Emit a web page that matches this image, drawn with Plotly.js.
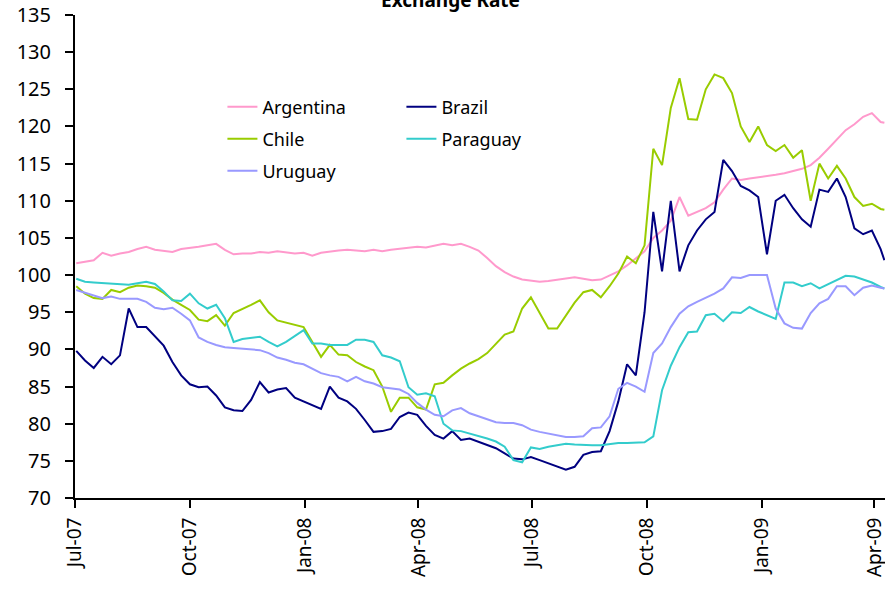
<!DOCTYPE html>
<html>
<head>
<meta charset="utf-8">
<script src="https://cdn.plot.ly/plotly-3.0.1.min.js"></script>
<style>
  html, body { margin: 0; padding: 0; background: #ffffff; }
  #chart { width: 885px; height: 591px; }
</style>
</head>
<body>
<div id="chart"></div>
<script>
// Weekly observations, Jul 2007 - Apr 2009 (index, start = 100 scale)
const dates = [
  "2007-07-02","2007-07-09","2007-07-16","2007-07-23","2007-07-30",
  "2007-08-06","2007-08-13","2007-08-20","2007-08-27",
  "2007-09-03","2007-09-10","2007-09-17","2007-09-24",
  "2007-10-01","2007-10-08","2007-10-15","2007-10-22","2007-10-29",
  "2007-11-05","2007-11-12","2007-11-19","2007-11-26",
  "2007-12-03","2007-12-10","2007-12-17","2007-12-24","2007-12-31",
  "2008-01-07","2008-01-14","2008-01-21","2008-01-28",
  "2008-02-04","2008-02-11","2008-02-18","2008-02-25",
  "2008-03-03","2008-03-10","2008-03-17","2008-03-24","2008-03-31",
  "2008-04-07","2008-04-14","2008-04-21","2008-04-28",
  "2008-05-05","2008-05-12","2008-05-19","2008-05-26",
  "2008-06-02","2008-06-09","2008-06-16","2008-06-23","2008-06-30",
  "2008-07-07","2008-07-14","2008-07-21","2008-07-28",
  "2008-08-04","2008-08-11","2008-08-18","2008-08-25",
  "2008-09-01","2008-09-08","2008-09-15","2008-09-22","2008-09-29",
  "2008-10-06","2008-10-13","2008-10-20","2008-10-27",
  "2008-11-03","2008-11-10","2008-11-17","2008-11-24",
  "2008-12-01","2008-12-08","2008-12-15","2008-12-22","2008-12-29",
  "2009-01-05","2009-01-12","2009-01-19","2009-01-26",
  "2009-02-02","2009-02-09","2009-02-16","2009-02-23",
  "2009-03-02","2009-03-09","2009-03-16","2009-03-23","2009-03-30",
  "2009-04-06","2009-04-09"
];

const argentina = [
  101.6,101.8,102.0,103.0,102.6,102.9,103.1,103.5,103.8,103.4,103.2,103.1,103.5,
  103.6,103.8,104.0,104.2,103.4,102.8,102.9,102.9,103.1,103.0,103.2,103.1,102.9,
  103.0,102.6,103.0,103.2,103.3,103.4,103.3,103.2,103.4,103.2,103.4,103.5,103.6,
  103.8,103.7,104.0,104.2,104.0,104.2,103.8,103.3,102.3,101.2,100.4,99.8,99.4,
  99.3,99.1,99.2,99.4,99.6,99.7,99.5,99.3,99.4,100.0,100.5,101.3,102.2,103.2,
  105.0,106.0,107.3,110.5,108.0,108.5,109.0,109.8,111.5,113.0,112.8,113.0,113.2,
  113.3,113.5,113.7,114.0,114.3,114.8,115.8,117.0,118.3,119.5,120.3,121.3,121.8,
  120.6,120.5
];

const brazil = [
  89.8,88.5,87.5,89.0,88.0,89.2,95.5,93.0,93.0,91.8,90.5,88.3,86.5,
  85.3,84.9,85.0,83.8,82.2,81.8,81.7,83.2,85.6,84.2,84.6,84.8,83.5,
  83.0,82.5,82.0,85.0,83.5,83.0,82.0,80.5,78.9,79.0,79.3,80.9,81.5,
  81.2,79.7,78.5,78.0,79.0,77.8,78.0,77.6,77.2,76.7,76.0,75.3,75.2,
  75.5,75.1,74.7,74.3,73.8,74.2,75.8,76.2,76.3,79.0,83.0,88.0,86.5,95.0,
  108.5,100.5,110.0,100.5,104.0,106.0,107.5,108.5,115.5,114.0,112.0,111.4,110.5,
  102.8,110.0,110.8,109.0,107.5,106.5,111.5,111.2,113.0,110.5,106.3,105.5,106.0,
  103.5,102.0
];

const chile = [
  98.5,97.5,96.9,96.8,98.0,97.7,98.3,98.6,98.5,98.3,97.6,96.7,96.0,
  95.3,94.0,93.8,94.6,93.2,94.9,95.4,96.0,96.6,95.0,93.9,93.6,93.4,
  93.0,91.0,89.0,90.6,89.3,89.2,88.3,87.7,87.2,85.0,81.6,83.5,83.5,
  82.2,81.9,85.3,85.5,86.5,87.4,88.1,88.7,89.5,90.8,92.0,92.4,95.5,
  97.0,94.9,92.8,92.8,94.5,96.3,97.7,98.0,97.0,98.5,100.2,102.5,101.6,104.0,
  117.0,114.8,122.5,126.5,121.0,120.9,125.0,127.0,126.5,124.5,120.0,117.9,120.0,
  117.5,116.7,117.5,115.8,116.8,110.0,115.0,113.0,114.7,113.0,110.5,109.3,109.6,
  108.9,108.8
];

const paraguay = [
  99.5,99.1,99.0,98.9,98.8,98.8,98.7,98.9,99.1,98.8,97.8,96.6,96.5,
  97.5,96.2,95.5,96.0,94.2,91.0,91.4,91.5,91.7,91.0,90.4,91.0,91.8,
  92.6,90.8,90.8,90.6,90.6,90.6,91.3,91.3,91.0,89.2,88.9,88.4,84.9,
  83.9,84.1,83.7,80.0,79.1,79.0,78.7,78.3,78.0,77.6,76.9,75.1,74.8,
  76.8,76.6,76.9,77.1,77.3,77.2,77.1,77.1,77.1,77.3,77.4,77.4,77.4,77.5,
  78.3,84.5,87.8,90.3,92.3,92.4,94.6,94.8,93.8,95.0,94.9,95.7,95.1,
  94.6,94.1,99.0,99.0,98.5,98.9,98.2,98.8,99.4,99.9,99.8,99.4,99.0,
  98.4,98.2
];

const uruguay = [
  98.0,97.6,97.3,96.9,97.1,96.8,96.8,96.8,96.4,95.6,95.4,95.6,94.8,
  93.9,91.6,91.0,90.6,90.3,90.2,90.1,89.9,89.9,89.5,88.9,88.6,88.2,
  88.0,87.4,86.8,86.5,86.3,85.7,86.3,85.7,85.4,84.9,84.8,84.6,84.0,
  82.8,81.9,81.2,81.0,81.8,82.1,81.4,81.0,80.6,80.2,80.1,80.1,79.8,
  79.2,78.9,78.7,78.5,78.2,78.2,78.3,79.4,79.5,81.0,84.7,85.5,85.0,84.3,
  89.5,90.8,93.0,94.8,95.8,96.4,96.9,97.5,98.2,99.7,99.6,100.0,100.0,
  100.0,95.5,93.5,92.9,92.8,94.9,96.2,96.8,98.5,98.5,97.3,98.3,98.6,
  98.3,98.2
];

const seriesNames = ["Argentina", "Brazil", "Chile", "Paraguay", "Uruguay"];
const seriesValues = [argentina, brazil, chile, paraguay, uruguay];
const seriesColors = ["#FF99CC", "#000080", "#99CC00", "#33CCCC", "#9999FF"];
// legend rows: Argentina/Brazil, Chile/Paraguay, Uruguay
const seriesLegend = ["legend", "legend", "legend2", "legend2", "legend3"];

const yTicks = [70, 75, 80, 85, 90, 95, 100, 105, 110, 115, 120, 125, 130, 135];

const FONT = "Noto Sans, Open Sans, DejaVu Sans, sans-serif";

const traces = seriesNames.map((name, k) => ({
  type: "scatter",
  mode: "lines",
  name: name,
  x: dates,
  y: seriesValues[k],
  line: { color: seriesColors[k], width: 2 },
  legend: seriesLegend[k],
  hoverinfo: "x+y+name"
}));

const legendBase = {
  orientation: "h",
  xref: "paper",
  yref: "paper",
  xanchor: "left",
  yanchor: "middle",
  x: 0.182,
  entrywidth: 134,
  entrywidthmode: "pixels",
  bgcolor: "rgba(0,0,0,0)",
  borderwidth: 0,
  font: { family: FONT, size: 18, color: "#000000" },
  traceorder: "normal"
};

const layout = {
  width: 885,
  height: 591,
  margin: { l: 75, r: 0, t: 15, b: 93 },
  paper_bgcolor: "#ffffff",
  plot_bgcolor: "#ffffff",
  showlegend: true,
  legend: Object.assign({}, legendBase, { y: 0.8095 }),
  legend2: Object.assign({}, legendBase, { y: 0.7433 }),
  legend3: Object.assign({}, legendBase, { y: 0.677 }),
  xaxis: {
    type: "date",
    range: ["2007-07-01", "2009-04-09 12:00"],
    tick0: "2007-07-01",
    dtick: "M3",
    tickformat: "%b-%y",
    tickangle: -90,
    ticks: "outside",
    ticklen: 8,
    tickwidth: 2,
    tickcolor: "#000000",
    showline: true,
    linecolor: "#000000",
    linewidth: 2,
    showgrid: false,
    zeroline: false,
    ticklabelstandoff: 2,
    ticklabeloverflow: "allow",
    tickfont: { family: FONT, size: 19, color: "#000000" }
  },
  yaxis: {
    range: [70, 135],
    tickmode: "array",
    tickvals: yTicks,
    ticktext: yTicks.map(String),
    ticks: "outside",
    ticklen: 8,
    tickwidth: 2,
    tickcolor: "#000000",
    showline: true,
    linecolor: "#000000",
    linewidth: 2,
    showgrid: false,
    zeroline: false,
    ticklabelstandoff: 10,
    tickfont: { family: FONT, size: 20, color: "#000000" }
  },
  annotations: [{
    text: "<b>Exchange Rate</b>",
    xref: "paper",
    yref: "paper",
    x: 0.463,
    y: 1,
    xanchor: "center",
    yanchor: "bottom",
    showarrow: false,
    font: { family: FONT, size: 19, color: "#000000" }
  }]
};

Plotly.newPlot("chart", traces, layout, { displayModeBar: false, staticPlot: true });
</script>
</body>
</html>
